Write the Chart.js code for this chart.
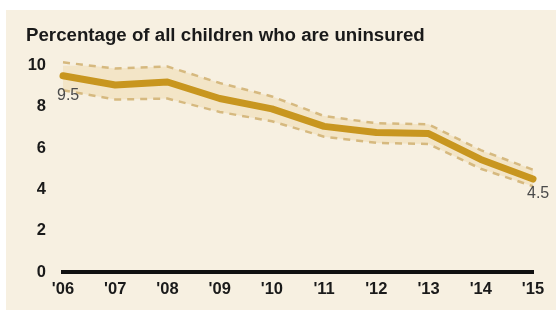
<!DOCTYPE html>
<html>
<head>
<meta charset="utf-8">
<script src="https://cdn.jsdelivr.net/npm/chart.js@4.4.1/dist/chart.umd.min.js"></script>
<style>
  html, body { margin: 0; padding: 0; background: #fff; }
  #box {
    position: absolute; left: 6px; top: 10px;
    width: 550px; height: 300px;
    background: #f7f0e1;
  }
  #uninsuredChart { display: block; }
</style>
</head>
<body>
<div id="box"><canvas id="uninsuredChart" width="550" height="295"></canvas></div>
<script>
const years = ["'06", "'07", "'08", "'09", "'10", "'11", "'12", "'13", "'14", "'15"];
const uninsuredPct = [9.5, 9.05, 9.2, 8.4, 7.9, 7.05, 6.75, 6.7, 5.45, 4.5];
const upperBound = [10.15, 9.85, 9.95, 9.15, 8.5, 7.55, 7.2, 7.15, 5.9, 4.95];
const lowerBound = [8.8, 8.35, 8.4, 7.75, 7.3, 6.55, 6.25, 6.2, 5.0, 4.15];
const yTicks = [0, 2, 4, 6, 8, 10];
// values written next to the line (index into years)
const endLabels = [
  { index: 0, text: '9.5', dy: 20 },
  { index: 9, text: '4.5', dy: 15 }
];

const ctx = document.getElementById('uninsuredChart').getContext('2d');

// small plugin to write the start / end values
const valueLabels = {
  id: 'valueLabels',
  afterDatasetsDraw(chart) {
    const c = chart.ctx;
    const x = chart.scales.x, y = chart.scales.y;
    c.save();
    c.font = '16px "Liberation Sans", Arial, sans-serif';
    c.fillStyle = '#4a4a4a';
    c.textAlign = 'left';
    c.textBaseline = 'middle';
    endLabels.forEach(l => {
      const px = x.getPixelForValue(l.index);
      const py = y.getPixelForValue(uninsuredPct[l.index]);
      c.fillText(l.text, px - 6, py + l.dy);
    });
    c.restore();
  }
};

const dashed = {
  borderColor: '#d6b97f',
  borderWidth: 2.5,
  borderDash: [7, 6],
  pointRadius: 0,
  tension: 0
};

new Chart(ctx, {
  type: 'line',
  data: {
    labels: years,
    datasets: [
      Object.assign({ label: 'upper', data: upperBound, fill: '+1', backgroundColor: 'rgba(241,224,188,0.7)', order: 3 }, dashed),
      Object.assign({ label: 'lower', data: lowerBound, fill: false, order: 2 }, dashed),
      {
        label: 'Uninsured',
        data: uninsuredPct,
        borderColor: '#c8961f',
        borderWidth: 7,
        borderCapStyle: 'round',
        borderJoinStyle: 'round',
        pointRadius: 0,
        fill: false,
        tension: 0,
        order: 1
      }
    ]
  },
  options: {
    responsive: false,
    animation: false,
    layout: { padding: { left: 20, right: 23, top: 5, bottom: 0 } },
    plugins: {
      legend: { display: false },
      tooltip: { enabled: false },
      title: {
        display: true,
        text: 'Percentage of all children who are uninsured',
        align: 'start',
        color: '#1a1a1a',
        font: { family: '"Liberation Sans", Arial, sans-serif', size: 18.7, weight: 'bold', lineHeight: 1.2 },
        padding: { top: 10, bottom: 18 }
      }
    },
    clip: false,
    scales: {
      x: {
        offset: false,
        grid: { display: false, drawTicks: false },
        border: { display: true, color: '#111', width: 4 },
        ticks: {
          color: '#1a1a1a',
          padding: 8,
          maxRotation: 0,
          autoSkip: false,
          font: { family: '"Liberation Sans", Arial, sans-serif', size: 16.5, weight: 'bold' }
        },
        afterFit: s => { s.height = 33; }
      },
      y: {
        min: 0,
        max: 10,
        afterBuildTicks: s => { s.ticks = yTicks.map(v => ({ value: v })); },
        grid: { display: false, drawTicks: false },
        border: { display: false },
        ticks: {
          color: '#1a1a1a',
          padding: 17,
          font: { family: '"Liberation Sans", Arial, sans-serif', size: 16.5, weight: 'bold' }
        },
        afterFit: s => { s.width = 37; }
      }
    }
  },
  plugins: [valueLabels]
});
</script>
</body>
</html>
